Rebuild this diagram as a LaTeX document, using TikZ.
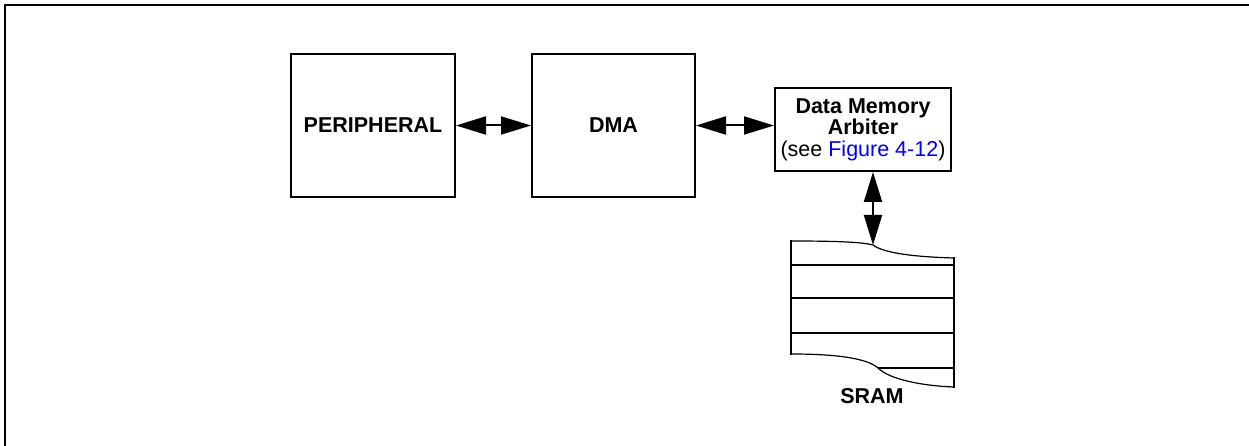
\documentclass[tikz,border=0pt]{standalone}
\usepackage{fontspec}
\setmainfont{Liberation Sans}
\usetikzlibrary{arrows.meta}
\definecolor{linkblue}{RGB}{0,0,255}
\tikzset{
  blk/.style={draw, line width=2pt, inner sep=0pt, align=center,
    font=\fontsize{21.5}{21.5}\selectfont\bfseries},
  dbl/.style={line width=2pt, {Triangle[length=30pt,width=18pt]}-{Triangle[length=30pt,width=18pt]}},
  mem/.style={line width=2pt},
  memcurve/.style={line width=1.2pt},
  lbl/.style={inner sep=0pt, font=\fontsize{21.5}{21.5}\selectfont\bfseries}
}
\begin{document}
\begin{tikzpicture}[x=1pt,y=-1pt]
\useasboundingbox (0,0) rectangle (1249,446);
% frame (top and left)
\draw[line width=2pt] (5,446) -- (5,5) -- (1249,5);
% blocks
\node[blk, minimum width=164pt, minimum height=143pt] (peri) at (373,125.5) {PERIPHERAL};
\node[blk, minimum width=176pt, minimum height=83pt] (arb) at (863,129.5)
  {Data Memory\\Arbiter\\\mdseries(see \textcolor{linkblue}{Figure 4-12})};
\node[blk, minimum width=163pt, minimum height=143pt] (dma) at (613.5,125.5) {DMA};
% SRAM
\coordinate (sramtop) at (873,245);
\draw[memcurve] (791,241) .. controls (835,241) and (862,242) .. (sramtop)
  .. controls (885,254) and (920,257) .. (954,258);
\draw[mem] (791,240) -- (791,355);
\draw[mem] (954,257) -- (954,388);
\draw[mem] (791,265) -- (954,265);
\draw[mem] (791,298) -- (954,298);
\draw[mem] (791,333) -- (954,333);
\draw[memcurve] (791,354) .. controls (840,354) and (868,359) .. (878,368)
  .. controls (890,380) and (925,386) .. (954,387);
\draw[mem] (878,368) -- (954,368);
\node[lbl] (sram) at (872,396) {SRAM};
% connectors
\draw[dbl] (peri.east) -- (dma.west);
\draw[dbl] (dma.east) -- (dma.east -| arb.west);
\draw[dbl] (arb.south -| sramtop) -- (sramtop);
\end{tikzpicture}
\end{document}
